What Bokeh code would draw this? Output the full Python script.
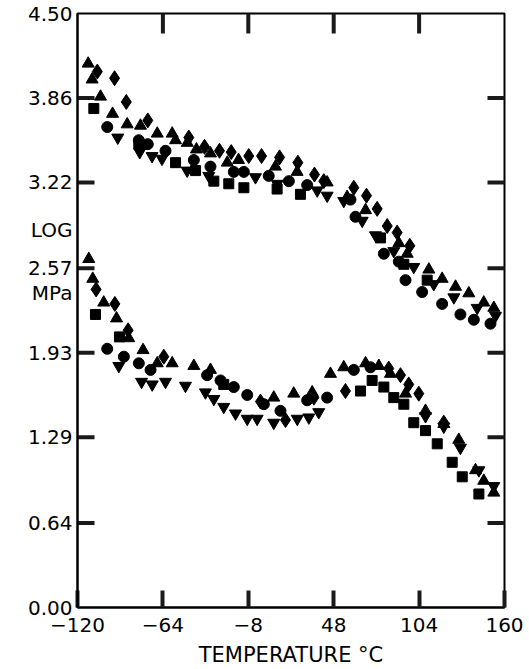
from bokeh.plotting import figure
from bokeh.models import Range1d, FixedTicker
from bokeh.embed import file_html
from bokeh.resources import INLINE

# ---- data ----
x_ticks = [-120, -64, -8, 48, 104, 160]
y_ticks = [0.00, 0.64, 1.29, 1.93, 2.57, 3.22, 3.86, 4.50]
y_tick_labels = ["0.00", "0.64", "1.29", "1.93", "2.57", "3.22", "3.86", "4.50"]
y_title_pos = [2.86, 2.38]
y_title_parts = ["LOG", "MPa"]

# upper curve
tri_up_x = [-113, -110.4, -104.9, -97, -87.4, -78.7, -67.7, -57.9, -55.7, -48, -42, -32.8, -21.8, -14.4,
            9.8, 24, 43.7, 56.8, 68.9, 90.7, 96.2, 110.4, 119.1, 127.9, 136.6, 146.4, 153]
tri_up_y = [4.12, 4.00, 3.87, 3.74, 3.66, 3.65, 3.59, 3.59, 3.54, 3.52, 3.47, 3.44, 3.37, 3.39,
            3.34, 3.30, 3.22, 3.11, 3.01, 2.76, 2.68, 2.56, 2.49, 2.43, 2.38, 2.31, 2.27]
dia_up_x = [-107, -95.7, -88, -73.9, -47, -36.7, -26.9, -19.2, -7.7, 0.7, 12.5, 24.5, 35.4, 41.5,
            61.2, 69.5, 76.5, 83.1, 89.6, 97.9]
dia_up_y = [4.06, 4.01, 3.83, 3.69, 3.56, 3.49, 3.46, 3.45, 3.42, 3.42, 3.41, 3.37, 3.28, 3.23,
            3.18, 3.12, 3.02, 2.89, 2.84, 2.74]
cir_up_x = [-100.5, -79.8, -73.9, -62.3, -43.7, -32.8, -17.5, -10.9, 5.4, 18.6, 30.6, 59, 62.3,
            80.9, 90.7, 95.1, 106, 119.1, 131.1, 139.9, 150.8]
cir_up_y = [3.64, 3.54, 3.51, 3.46, 3.39, 3.34, 3.30, 3.30, 3.27, 3.23, 3.20, 3.09, 2.96,
            2.68, 2.62, 2.48, 2.39, 2.30, 2.22, 2.18, 2.15]
sq_up_x = [-109.3, -79.8, -55.7, -42.6, -30.6, -20.8, -10.9, 10.9, 26.2, 78.7, 94, 109.3]
sq_up_y = [3.78, 3.51, 3.37, 3.31, 3.23, 3.21, 3.18, 3.17, 3.13, 2.80, 2.60, 2.48]
inv_up_x = [-93.6, -79.2, -71.1, -64.6, -48.1, -33.9, -3.3, 11, 37.2, 43.7, 54.6, 66.7, 75.4,
            87.4, 100.5, 113.6, 126.8, 142.1, 154.1]
inv_up_y = [3.56, 3.45, 3.42, 3.40, 3.31, 3.27, 3.26, 3.21, 3.16, 3.12, 3.08, 2.93, 2.82,
            2.70, 2.58, 2.45, 2.35, 2.27, 2.21]

# lower curve
tri_lo_x = [-112.6, -110, -102.8, -94.4, -86.4, -77, -67.7, -57.9, -43.7, -32.8, 8.7, 21.8, 33.9,
            45.9, 54.6, 68.9, 77.6, 85.2, 95.1, 108.2, 120.2, 130, 141, 146.4, 153]
tri_lo_y = [2.64, 2.49, 2.31, 2.19, 2.04, 1.95, 1.85, 1.85, 1.83, 1.80, 1.59, 1.62, 1.63,
            1.77, 1.82, 1.85, 1.83, 1.77, 1.62, 1.49, 1.39, 1.27, 1.04, 0.96, 0.87]
dia_lo_x = [-107.8, -95.5, -86.8, -63.4, 0, 16.4, 35, 55.7, 84.1, 91.8, 97.2, 103.8, 120.2]
dia_lo_y = [2.41, 2.30, 2.10, 1.90, 1.56, 1.42, 1.59, 1.64, 1.81, 1.76, 1.69, 1.62, 1.40]
cir_lo_x = [-100.5, -89.6, -79.8, -72.1, -35, -26.2, -17.5, -8.7, 2.2, 13.1, 30.6, 43.7, 61.2, 72.1]
cir_lo_y = [1.96, 1.90, 1.85, 1.80, 1.76, 1.72, 1.67, 1.61, 1.54, 1.49, 1.57, 1.59, 1.80, 1.82]
sq_lo_x = [-108.2, -92.5, -24.1, 65.6, 73.2, 80.9, 87.4, 94, 100.5, 108.2, 115.9, 125.7, 132.3, 143.2]
sq_lo_y = [2.22, 2.05, 1.69, 1.64, 1.72, 1.67, 1.59, 1.54, 1.40, 1.34, 1.24, 1.10, 0.99, 0.86]
inv_lo_x = [-92.9, -78, -71, -62.3, -49.2, -36.1, -30.6, -24.1, -16.4, -8.7, -2.2, 8.7, 24.1, 31.7,
            38.2, 108.2, 120.2, 131.1, 143.2, 153]
inv_lo_y = [1.83, 1.71, 1.69, 1.71, 1.68, 1.63, 1.58, 1.52, 1.47, 1.43, 1.43, 1.40, 1.43, 1.44,
            1.48, 1.45, 1.37, 1.21, 1.04, 0.92]

FONT = "DejaVu Sans"
X0, X1, Y0, Y1 = -120, 160, 0.0, 4.5
TICK_W = 4
TICK_C = "#1a1a1a"

p = figure(width=529, height=669, x_range=Range1d(X0, X1), y_range=Range1d(Y0, Y1),
           output_backend="svg", toolbar_location=None,
           min_border_left=77, min_border_right=25, min_border_top=13, min_border_bottom=62)
p.grid.visible = False
p.outline_line_color = "black"
p.outline_line_width = 2

# bottom axis: inward ticks
xa = p.xaxis[0]
xa.ticker = FixedTicker(ticks=x_ticks)
xa.major_tick_in = 17
xa.major_tick_out = 0
xa.minor_tick_in = 0
xa.minor_tick_out = 0
xa.major_tick_line_color = TICK_C
xa.major_tick_line_width = TICK_W
xa.axis_line_color = "black"
xa.axis_line_width = 2
xa.axis_label = "TEMPERATURE °C"
xa.axis_label_text_font = FONT
xa.axis_label_text_font_style = "normal"
xa.axis_label_text_font_size = "21px"
xa.axis_label_text_color = "black"
xa.axis_label_standoff = 8
xa.major_label_text_font = FONT
xa.major_label_text_font_size = "20px"
xa.major_label_text_color = "black"
xa.major_label_standoff = 10

# left axis: numbers plus the "LOG" / "MPa" title pieces (tick marks drawn below)
lab_text = {t: s for t, s in zip(y_ticks, y_tick_labels)}
lab_text.update({t: s for t, s in zip(y_title_pos, y_title_parts)})
ya = p.yaxis[0]
ya.ticker = FixedTicker(ticks=y_ticks + y_title_pos)
ya.major_label_overrides = lab_text
ya.major_tick_line_color = None
ya.minor_tick_line_color = None
ya.major_tick_in = 0
ya.major_tick_out = 0
ya.axis_line_color = "black"
ya.axis_line_width = 2
ya.major_label_text_font = FONT
ya.major_label_text_font_size = "20px"
ya.major_label_text_color = "black"
ya.major_label_standoff = 5

# inward tick marks on left, top and right: bars centred on the frame edge
# at each tick value (the half outside the frame is clipped away)
xt_in = x_ticks[1:-1]
yt_in = y_ticks[1:-1]
bar_kw = dict(fill_color=TICK_C, line_color=None, width_units="screen", height_units="screen")
p.rect(x=xt_in, y=[Y1] * len(xt_in), width=TICK_W, height=40, **bar_kw)
p.rect(x=[X0] * len(yt_in), y=yt_in, width=34, height=TICK_W, **bar_kw)
p.rect(x=[X1] * len(yt_in), y=yt_in, width=34, height=TICK_W, **bar_kw)

# markers
styles = [
    ("triangle", 12, tri_up_x, tri_up_y, tri_lo_x, tri_lo_y),
    ("diamond", 15, dia_up_x, dia_up_y, dia_lo_x, dia_lo_y),
    ("circle", 11, cir_up_x, cir_up_y, cir_lo_x, cir_lo_y),
    ("square", 10, sq_up_x, sq_up_y, sq_lo_x, sq_lo_y),
    ("inverted_triangle", 12, inv_up_x, inv_up_y, inv_lo_x, inv_lo_y),
]
for marker, size, ux, uy, lx, ly in styles:
    p.scatter(ux, uy, marker=marker, size=size, fill_color="black", line_color="black")
    p.scatter(lx, ly, marker=marker, size=size, fill_color="black", line_color="black")

open("out.html", "w").write(file_html(p, INLINE))
